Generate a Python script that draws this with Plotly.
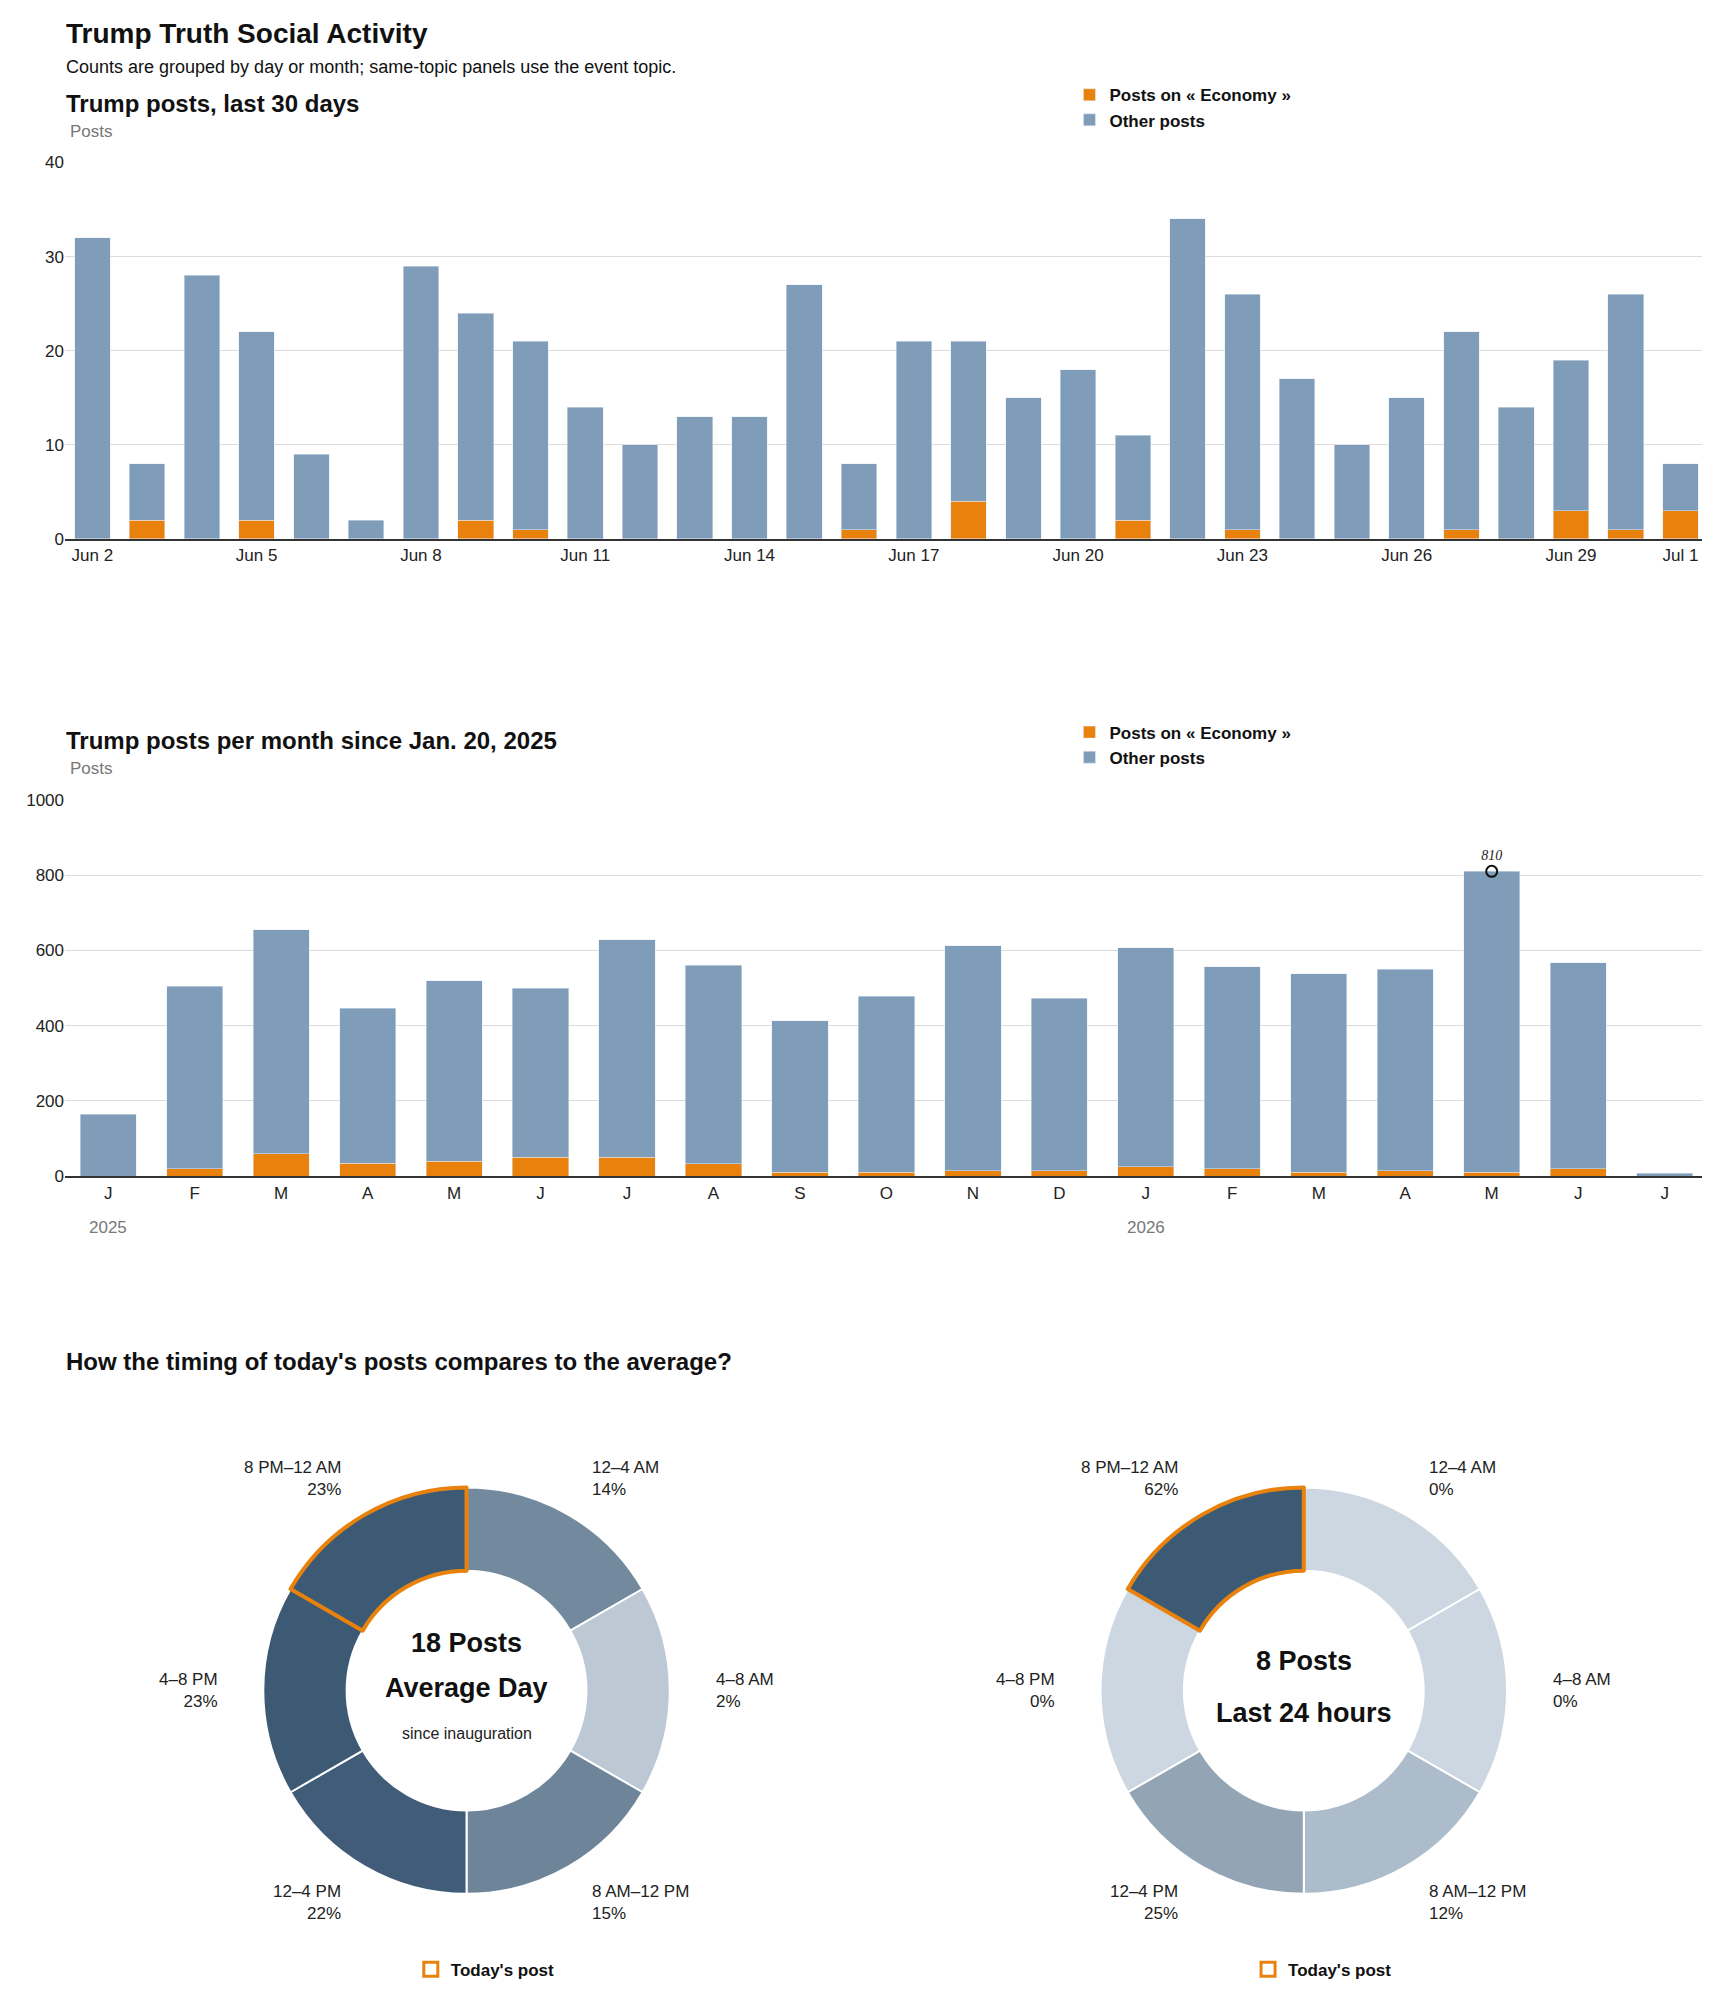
import plotly.graph_objects as go
import math

W, H = 1710, 1993
S = 1710 / 1350.0
def px(x): return x * S / W
def py(y): return 1 - y * S / H

FONT = "Liberation Sans"
ORANGE = "#e8820c"
BLUE = "#7f9db9"

# ---- data ----
days = ["Jun 2","Jun 3","Jun 4","Jun 5","Jun 6","Jun 7","Jun 8","Jun 9","Jun 10","Jun 11",
        "Jun 12","Jun 13","Jun 14","Jun 15","Jun 16","Jun 17","Jun 18","Jun 19","Jun 20","Jun 21",
        "Jun 22","Jun 23","Jun 24","Jun 25","Jun 26","Jun 27","Jun 28","Jun 29","Jun 30","Jul 1"]
day_total = [32,8,28,22,9,2,29,24,21,14,10,13,13,27,8,21,21,15,18,11,34,26,17,10,15,22,14,19,26,8]
day_econ = [0,2,0,2,0,0,0,2,1,0,0,0,0,0,1,0,4,0,0,2,0,1,0,0,0,1,0,3,1,3]
day_ticks = ["Jun 2","Jun 5","Jun 8","Jun 11","Jun 14","Jun 17","Jun 20","Jun 23","Jun 26","Jun 29","Jul 1"]

months = ["J","F","M","A","M","J","J","A","S","O","N","D","J","F","M","A","M","J","J"]
month_total = [165,505,655,447,520,500,628,560,413,478,612,473,607,557,538,550,810,567,8]
month_econ = [0,20,60,35,40,50,50,33,10,10,15,15,25,20,10,15,10,20,0]
years = ["2025", "2026"]
year_idx = [0, 12]
peak_idx = 16

slots = ["12–4 AM","4–8 AM","8 AM–12 PM","12–4 PM","4–8 PM","8 PM–12 AM"]
avg_share = ["14%","2%","15%","22%","23%","23%"]
avg_colors = ["#738a9e","#bcc8d4","#6d8499","#415c78","#3d5a75","#3d5a75"]
day_share = ["0%","0%","12%","25%","0%","62%"]
day_colors = ["#cdd7e1","#cdd7e1","#adbcca","#93a5b5","#cdd7e1","#3d5a75"]
highlight = 5

fig = go.Figure()

# chart 1
fig.add_bar(x=days, y=day_econ, marker_color=ORANGE, name="Posts on « Economy »",
            xaxis="x", yaxis="y", legend="legend", width=0.65)
fig.add_bar(x=days, y=[t - e for t, e in zip(day_total, day_econ)], marker_color=BLUE,
            name="Other posts", xaxis="x", yaxis="y", legend="legend", width=0.65)
# chart 2
mx = list(range(len(months)))
fig.add_bar(x=mx, y=month_econ, marker_color=ORANGE, name="Posts on « Economy »",
            xaxis="x2", yaxis="y2", legend="legend2", width=0.65)
fig.add_bar(x=mx, y=[t - e for t, e in zip(month_total, month_econ)], marker_color=BLUE,
            name="Other posts", xaxis="x2", yaxis="y2", legend="legend2", width=0.65)
fig.add_scatter(x=[peak_idx], y=[month_total[peak_idx]], mode="markers+text",
                text=[f"<i>{month_total[peak_idx]}</i>"], textposition="top center",
                textfont=dict(family="Liberation Serif", size=14, color="#222"),
                marker=dict(symbol="circle-open", size=11, color="#111", line=dict(width=2)),
                xaxis="x2", yaxis="y2", showlegend=False, cliponaxis=False)

# donuts
def donut(colors, cx, label_name):
    widths = [4 if i == highlight else 2 for i in range(6)]
    lcol = [ORANGE if i == highlight else "white" for i in range(6)]
    r = 162
    fig.add_pie(values=[1]*6, labels=slots, sort=False, direction="clockwise", rotation=0,
                hole=0.59, textinfo="none", hoverinfo="label", showlegend=False,
                marker=dict(colors=colors, line=dict(color=lcol, width=widths)),
                domain=dict(x=[px(cx - r), px(cx + r)], y=[py(1334 + r), py(1334 - r)]))

donut(avg_colors, 362, "avg")
donut(day_colors, 1023, "day")

# dummy legend traces for donuts
for lg in ["legend3", "legend4"]:
    fig.add_scatter(x=[None], y=[None], mode="markers", name="Today's post",
                    marker=dict(symbol="square-open", size=14, color=ORANGE, line=dict(width=3)),
                    xaxis="x", yaxis="y", legend=lg)

ann = []
def A(x, y, text, size=16, color="#111", bold=False, xa="left", ya="middle", **kw):
    t = f"<b>{text}</b>" if bold else text
    d = dict(x=x, y=y, xref="paper", yref="paper", text=t, showarrow=False,
             font=dict(family=FONT, size=size, color=color), xanchor=xa, yanchor=ya)
    d.update(kw)
    ann.append(d)

A(px(44), py(13), "Trump Truth Social Activity", size=28, bold=True)
A(px(44), py(40), "Counts are grouped by day or month; same-topic panels use the event topic.", size=18)
A(px(44), py(69), "Trump posts, last 30 days", size=24, bold=True)
A(px(47), py(91), "Posts", size=17, color="#777")
A(px(44), py(577), "Trump posts per month since Jan. 20, 2025", size=24, bold=True)
A(px(47), py(599), "Posts", size=17, color="#777")
A(px(44), py(1072), "How the timing of today's posts compares to the average?", size=24, bold=True)
for yr, i in zip(years, year_idx):
    ann.append(dict(x=i, y=py(965), xref="x2", yref="paper", text=yr, showarrow=False,
                    font=dict(family=FONT, size=17, color="#777"), xanchor="center"))

# donut labels
def donut_labels(cx, shares):
    rl = 195
    for i, (s, sh) in enumerate(zip(slots, shares)):
        ang = math.radians(30 + 60 * i)
        lx = cx + rl * math.sin(ang)
        ly = 1334 - rl * math.cos(ang)
        if i in (0, 5):
            ly -= 0
        left = math.sin(ang) > 0
        A(px(lx + (-10 if left else 10)) if False else px(lx), py(ly),
          f"{s}<br>{sh}", size=17, color="#222",
          xa="left" if left else "right", align="left" if left else "right")

donut_labels(362, avg_share)
donut_labels(1023, day_share)

A(px(362), py(1296), "18 Posts", size=27, bold=True, xa="center")
A(px(362), py(1332), "Average Day", size=27, bold=True, xa="center")
A(px(362), py(1368), "since inauguration", size=16, color="#222", xa="center")
A(px(1023), py(1310), "8 Posts", size=27, bold=True, xa="center")
A(px(1023), py(1352), "Last 24 hours", size=27, bold=True, xa="center")

leg = dict(font=dict(family=FONT, size=17, color="#111", weight="bold"), bgcolor="rgba(0,0,0,0)",
           xanchor="left", yanchor="top", traceorder="normal", itemclick=False, tracegroupgap=8)
axis_common = dict(showline=True, linecolor="#333", linewidth=2, ticks="", showgrid=False,
                   tickfont=dict(family=FONT, size=17, color="#222"), fixedrange=True)
yax_common = dict(showgrid=True, gridcolor="#dcdcdc", zeroline=False, ticks="",
                  tickfont=dict(family=FONT, size=17, color="#222"), fixedrange=True)

fig.update_layout(
    width=W, height=H, margin=dict(l=0, r=0, t=0, b=0), paper_bgcolor="white",
    plot_bgcolor="white", barmode="stack", bargap=0.35, font=dict(family=FONT),
    xaxis=dict(domain=[px(45), px(1342)], anchor="y", tickmode="array", tickvals=day_ticks,
               ticktext=day_ticks, **axis_common),
    yaxis=dict(domain=[py(416), py(116)], anchor="x", range=[0, 40], dtick=10, **yax_common),
    xaxis2=dict(domain=[px(45), px(1342)], anchor="y2", tickmode="array", tickvals=mx,
                ticktext=months, range=[-0.5, len(months) - 0.5], **axis_common),
    yaxis2=dict(domain=[py(924), py(624)], anchor="x2", range=[0, 1000], dtick=200, **yax_common),
    legend=dict(x=px(838), y=py(48), **leg),
    legend2=dict(x=px(838), y=py(556), **leg),
    legend3=dict(x=px(318), y=py(1542), **leg),
    legend4=dict(x=px(979), y=py(1542), **leg),
    annotations=ann,
)
fig.write_html("out.html")
